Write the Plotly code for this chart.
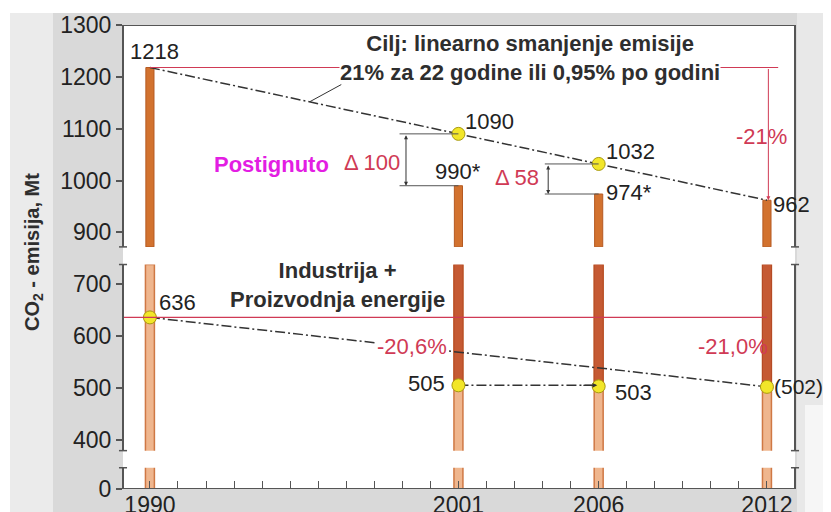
import plotly.graph_objects as go

# ---------------- data ----------------
years = [1990, 2001, 2006, 2012]
year_labels = ["1990", "2001", "2006", "2012"]
total = [1218, 990, 974, 962]          # total emissions (bars)
target = [1218, 1090, 1032, 962]       # linear target path
industry = [636, 505, 503, 502]        # industry + energy production
ytick_values = [0, 400, 500, 600, 700, 900, 1000, 1100, 1200, 1300]
total_labels = ["1218", "990*", "974*", "962"]
target_labels = ["1090", "1032"]
industry_labels = ["636", "505", "503", "(502)"]

# ---------------- broken axis mapping ----------------
D0 = 305  # display position of value 0


def d(v):
    if v >= 800:
        return v - 100
    if v >= 400:
        return v
    return D0 + v * (400 - D0) / 400.0


LOWER_TOP = 738       # top of lower section (display)
UPPER_BOTTOM = 772    # bottom of upper section (display)
BOT_GAP = (346, 379)  # gap between 0 and 400 section

FONT = "Liberation Sans, Arial, sans-serif"
AX = "#555555"
RED = "#d03a55"
TXT = "#222222"

fig = go.Figure()

# lower light bars
fig.add_trace(go.Bar(
    x=years, base=[D0] * len(years), y=[LOWER_TOP - D0] * len(years),
    width=0.32, marker=dict(color="#efb68e", line=dict(color="#cf7844", width=1.5)),
    hoverinfo="skip"))
# dark segment above the industry value
fig.add_trace(go.Bar(
    x=years[1:], base=[d(v) for v in industry[1:]],
    y=[LOWER_TOP - d(v) for v in industry[1:]],
    width=0.32, marker=dict(color="#c55a33", line=dict(color="#b44a25", width=1)),
    hoverinfo="skip"))
# upper bars
fig.add_trace(go.Bar(
    x=years, base=[UPPER_BOTTOM] * len(years),
    y=[d(v) - UPPER_BOTTOM for v in total],
    width=0.29, marker=dict(color="#d2722f", line=dict(color="#b55a22", width=1)),
    hoverinfo="skip"))

dashdot = "10px,3px,2px,3px"
# target path
fig.add_trace(go.Scatter(x=years, y=[d(v) for v in target], mode="lines",
                         line=dict(color="#333333", width=1.5, dash=dashdot), hoverinfo="skip"))
# industry trend
fig.add_trace(go.Scatter(x=[years[0], years[-1]], y=[d(industry[0]), d(industry[-1])], mode="lines",
                         line=dict(color="#333333", width=1.5, dash=dashdot), hoverinfo="skip"))
# horizontal 505 -> 2006
fig.add_trace(go.Scatter(x=[years[1], years[2]], y=[d(industry[1]), d(industry[1])], mode="lines",
                         line=dict(color="#333333", width=1.5, dash=dashdot), hoverinfo="skip"))

# markers
mk = dict(size=13, color="#f2e629", line=dict(color="#a89a10", width=1))
fig.add_trace(go.Scatter(x=years[1:3], y=[d(v) for v in target[1:3]], mode="markers",
                         marker=mk, hoverinfo="skip"))
fig.add_trace(go.Scatter(x=years, y=[d(v) for v in industry], mode="markers",
                         marker=mk, hoverinfo="skip"))

# ---------------- shapes ----------------
shapes = []


def px_x(p):
    return (p - 123) / 672.0


def px_y(p):
    return (489 - p) / 464.0


def prect(x0, x1, y0, y1, color):
    shapes.append(dict(type="rect", xref="paper", yref="paper",
                       x0=px_x(x0), x1=px_x(x1), y0=px_y(y0), y1=px_y(y1),
                       fillcolor=color, line=dict(width=0), layer="below"))


prect(53, 797, 13, 520, "#d9d9d9")
prect(10, 53, 13, 520, "#ebebeb")
prect(797, 840, 13, 520, "#e8e8e8")
prect(805, 840, 405, 520, "#f6f6f6")
shapes.append(dict(type="rect", xref="paper", yref="paper", x0=0, x1=1, y0=0, y1=1,
                   fillcolor="white", line=dict(width=0), layer="below"))

# red reference lines
shapes.append(dict(type="line", xref="x", yref="y", x0=years[0], x1=years[-1] + 0.4,
                   y0=d(total[0]), y1=d(total[0]), line=dict(color=RED, width=1.2)))
shapes.append(dict(type="line", xref="paper", yref="y", x0=0, x1=px_x(767),
                   y0=d(industry[0]), y1=d(industry[0]), line=dict(color=RED, width=1.2)))

# dimension lines
for yv in (target[1], total[1]):
    shapes.append(dict(type="line", xref="x", yref="y", x0=1998.9, x1=years[1],
                       y0=d(yv), y1=d(yv), line=dict(color="#555", width=1)))
for yv in (target[2], total[2]):
    shapes.append(dict(type="line", xref="x", yref="y", x0=2004.08, x1=years[2],
                       y0=d(yv), y1=d(yv), line=dict(color="#555", width=1)))

# white break bands
for (a, b) in ((LOWER_TOP, UPPER_BOTTOM), BOT_GAP):
    shapes.append(dict(type="rect", xref="paper", yref="y", x0=0.004, x1=0.996,
                       y0=a, y1=b, fillcolor="white", line=dict(width=0), layer="above"))

# broken frame
segs = [(D0, BOT_GAP[0]), (BOT_GAP[1], LOWER_TOP), (UPPER_BOTTOM, 1200)]
for xp in (0, 1):
    for (a, b) in segs:
        shapes.append(dict(type="line", xref="paper", yref="y", x0=xp, x1=xp, y0=a, y1=b,
                           line=dict(color=AX, width=2), layer="above"))
    for yv in (BOT_GAP[0], BOT_GAP[1], LOWER_TOP, UPPER_BOTTOM):
        shapes.append(dict(type="line", xref="paper", yref="y", x0=xp - 0.006, x1=xp + 0.006,
                           y0=yv, y1=yv, line=dict(color=AX, width=1.5), layer="above"))
for yv in (D0, 1200):
    shapes.append(dict(type="line", xref="paper", yref="y", x0=0, x1=1, y0=yv, y1=yv,
                       line=dict(color=AX, width=2), layer="above"))

# ---------------- annotations ----------------
ann = []


def label(x, y, text, xanchor, xshift, yshift, color=TXT, size=22, bold=False, bg=None):
    t = "<b>%s</b>" % text if bold else text
    a = dict(x=x, y=y, xref="x", yref="y", text=t, showarrow=False,
             xanchor=xanchor, yanchor="middle", xshift=xshift, yshift=yshift,
             font=dict(family=FONT, size=size, color=color))
    if bg:
        a["bgcolor"] = bg
        a["borderpad"] = 0
    ann.append(a)


label(years[0], d(total[0]), total_labels[0], "left", -22, 16)
label(years[1], d(target[1]), target_labels[0], "left", 5, 12)
label(years[2], d(target[2]), target_labels[1], "left", 5, 12)
label(years[1], d(total[1]), total_labels[1], "left", -25, 14)
label(years[2], d(total[2]), total_labels[2], "left", 5, 2)
label(years[3], d(total[3]), total_labels[3], "left", 4, -4)
label(years[0], d(industry[0]), industry_labels[0], "left", 7, 15)
label(years[1], d(industry[1]), industry_labels[1], "right", -11, 2)
label(years[2], d(industry[2]), industry_labels[2], "left", 14, -6)
label(years[3], d(industry[3]), industry_labels[3], "left", 5, 0, size=21)

label(2011.82, 984, "-21%", "center", 0, 0, color=RED, bg="white")
label(1999.34, 580, "-20,6%", "center", 0, 0, color=RED, bg="white")
label(2010.78, 580, "-21,0%", "center", 0, 0, color=RED)
label(1994.35, 930, "Postignuto", "center", 0, 0, color="#e31ee3", bold=True)
label(1997.91, 934, "Δ 100", "center", 0, 0, color=RED)
label(2003.08, 905, "Δ 58", "center", 0, 0, color=RED)
label(2003.55, 1137, "Cilj: linearno smanjenje emisije<br>21% za 22 godine ili 0,95% po godini",
      "center", 0, 0, color="#2e2e2e", bold=True, bg="white")
label(1996.7, 699, "Industrija +<br>Proizvodnja energije", "center", 0, 0, color="#2e2e2e", bold=True)

# leader line from title to target line
ann.append(dict(x=1995.7, y=1052, xref="x", yref="y", ax=33, ay=-18, text="",
                showarrow=True, arrowhead=0, arrowwidth=1, arrowcolor="#333"))
# double arrows
ann.append(dict(x=1999.13, y=d(total[1]), xref="x", yref="y", axref="x", ayref="y",
                ax=1999.13, ay=d(target[1]), text="", showarrow=True, arrowside="end+start",
                arrowhead=2, arrowsize=0.8, arrowwidth=1, arrowcolor="#333"))
ann.append(dict(x=2004.2, y=d(total[2]), xref="x", yref="y", axref="x", ayref="y",
                ax=2004.2, ay=d(target[2]), text="", showarrow=True, arrowside="end+start",
                arrowhead=2, arrowsize=0.8, arrowwidth=1, arrowcolor="#333"))
# red -21% arrow
ann.append(dict(x=years[3] + 0.05, y=d(total[3]), xref="x", yref="y", axref="x", ayref="y",
                ax=years[3] + 0.05, ay=d(total[0]), text="", showarrow=True,
                arrowhead=2, arrowsize=0.8, arrowwidth=1, arrowcolor=RED))
# arrow on 505 line
ann.append(dict(x=years[2] - 0.05, y=d(industry[1]), xref="x", yref="y", axref="x", ayref="y",
                ax=years[2] - 0.6, ay=d(industry[1]), text="", showarrow=True,
                arrowhead=2, arrowsize=0.8, arrowwidth=1.2, arrowcolor="#333"))
# y axis title
ann.append(dict(x=px_x(33), y=px_y(252), xref="paper", yref="paper", text="<b>CO<sub>2</sub> - emisija, Mt</b>",
                textangle=-90, showarrow=False, xanchor="center", yanchor="middle",
                font=dict(family=FONT, size=20, color="#2e2e2e")))

all_years = list(range(years[0], years[-1] + 1))
xt_text = [year_labels[years.index(y)] if y in years else "" for y in all_years]

# the page body adds an 8px margin, so the figure is 8px smaller than the window
fig.update_layout(
    width=823, height=504,
    margin=dict(l=115, r=36, t=17, b=23),
    paper_bgcolor="white", plot_bgcolor="white",
    showlegend=False, barmode="overlay",
    shapes=shapes, annotations=ann,
    xaxis=dict(range=[1989.04, 2013.0], tickvals=all_years, ticktext=xt_text,
               ticks="inside", ticklen=8, tickwidth=1, tickcolor=AX, showgrid=False,
               zeroline=False, showline=False, automargin=False,
               tickfont=dict(family=FONT, size=23, color=TXT)),
    yaxis=dict(range=[D0, 1200], tickvals=[d(v) for v in ytick_values],
               ticktext=[str(v) for v in ytick_values], ticks="outside", ticklen=6,
               tickwidth=1.5, tickcolor=AX, showgrid=False, zeroline=False, showline=False,
               automargin=False, tickfont=dict(family=FONT, size=23, color=TXT)),
)

fig.write_html("out.html")
